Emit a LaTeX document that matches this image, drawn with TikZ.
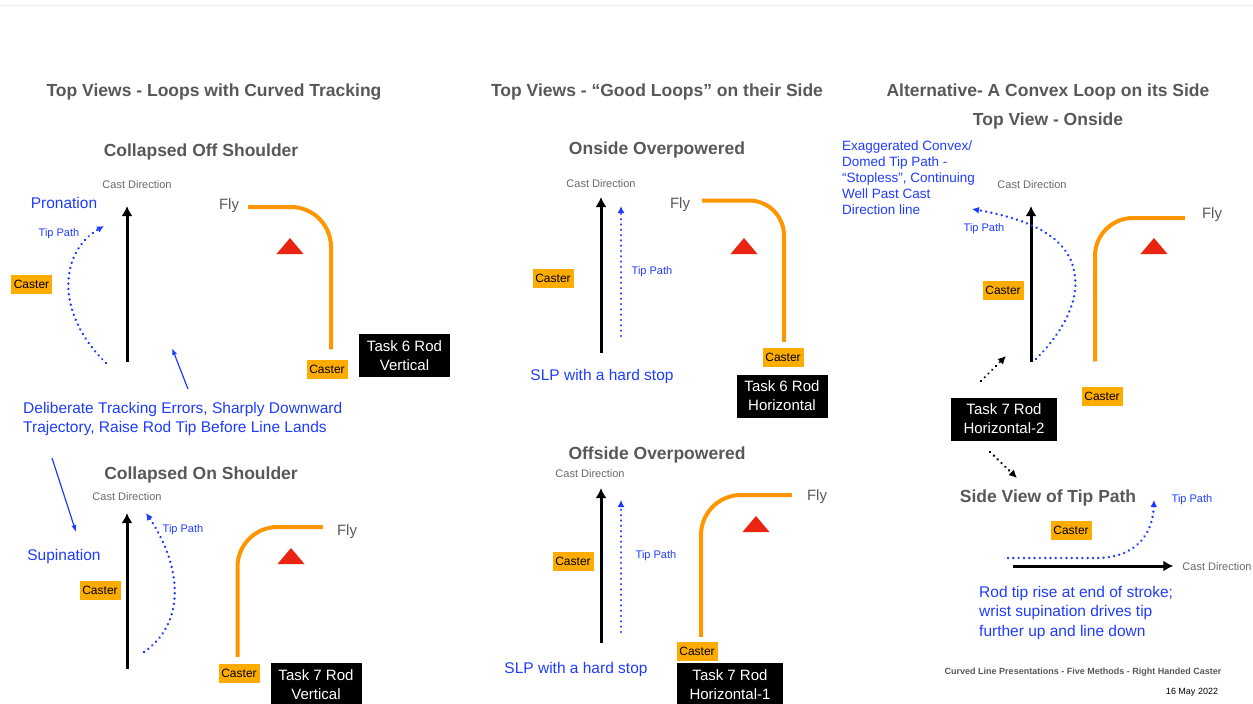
\documentclass[tikz,border=0pt]{standalone}
\usepackage{fontspec}
\setmainfont{Liberation Sans}
\usetikzlibrary{arrows.meta}

\definecolor{titlegray}{RGB}{88,88,88}
\definecolor{castgray}{RGB}{105,105,105}
\definecolor{noteblue}{RGB}{30,60,255}
\definecolor{lineorange}{RGB}{255,150,0}
\definecolor{casterfill}{RGB}{255,172,0}
\definecolor{conered}{RGB}{233,36,16}

\newcommand{\fs}[2]{\fontsize{#1}{#2}\selectfont}

\begin{document}
\begin{tikzpicture}[x=1pt,y=-1pt,
        header/.style={font=\bfseries\fs{17.5}{20}, text=titlegray, inner sep=1pt, yshift=-2pt},
        castlabel/.style={font=\fs{11}{13}, text=castgray, inner sep=1pt, yshift=-1pt},
        tiplabel/.style={font=\fs{11}{13}, text=noteblue, inner sep=1pt},
        note/.style={font=\fs{15.5}{19}, text=noteblue, inner sep=1pt, align=left},
        flylabel/.style={font=\fs{15}{18}, text=titlegray, inner sep=1pt, yshift=-2pt},
        caster/.style={fill=casterfill, font=\fs{12}{14}, minimum width=41pt, minimum height=19pt, inner sep=0pt},
        task/.style={fill=black, text=white, font=\fs{15}{19}, align=center, minimum width=91pt, minimum height=43pt, inner sep=0pt},
        rod/.style={line width=3pt, -{Latex[length=10pt,width=11pt]}},
        tippath/.style={noteblue, line width=2.7pt, line cap=round, dash pattern=on 0.01pt off 5.3pt, -{Latex[length=7pt,width=7pt]}},
        pointer/.style={noteblue, line width=1.2pt, -{Latex[length=7pt,width=5pt]}},
        dotpointer/.style={line width=2.7pt, line cap=round, dash pattern=on 0.01pt off 5.3pt, -{Latex[length=8pt,width=8pt]}},
        flyline/.style={lineorange, line width=4pt, rounded corners=40pt},
    ]
    \useasboundingbox (0,0) rectangle (1253,704);
    \draw[gray!12, line width=1pt] (0,5) -- (1253,5);

    % headers
    \node[header] (hdrLeft)   at (214,90)  {Top Views - Loops with Curved Tracking};
    \node[header] (hdrMid)    at (657,90)  {Top Views - “Good Loops” on their Side};
    \node[header] (hdrRight)  at (1048,90) {Alternative- A Convex Loop on its Side};
    \node[header] (hdrOnside) at (1048,119) {Top View - Onside};

    \node[header] (titleLT) at (201,150)  {Collapsed Off Shoulder};
    \node[header] (titleLB) at (201,473)  {Collapsed On Shoulder};
    \node[header] (titleMT) at (657,148)  {Onside Overpowered};
    \node[header] (titleMB) at (657,453)  {Offside Overpowered};
    \node[header] (titleRB) at (1048,496) {Side View of Tip Path};

    % red cones
    \foreach \x/\y in {290/238, 291/548, 744/238, 756/516, 1154/238}
        \fill[conered] (\x,\y) -- ++(-13.5,16) -- ++(27,0) -- cycle;

    % collapsed off shoulder
    \node[castlabel] (castLT) at (137,184) {Cast Direction};
    \node[note] (pronation) at (64,203) {Pronation};
    \node[tiplabel] (tipLT) at (59,234) {Tip Path};
    \node[caster] (casterLT1) at (31.5,284) {Caster};
    \node[flylabel] (flyLT) at (229,204) {Fly};
    \node[caster] (casterLT2) at (327,369) {Caster};
    \node[task] (taskLT) at (404.5,355.5) {Task 6 Rod\\Vertical};
    \node[note, anchor=west] (trackNote) at (22,419) {Deliberate Tracking Errors, Sharply Downward\\Trajectory, Raise Rod Tip Before Line Lands};

    \coordinate (rodLT0) at (127,362);
    \coordinate (rodLT1) at (127,206);
    \coordinate (tipLT0) at (106,363);
    \coordinate (tipLT1) at (104,226);
    \coordinate (ptrLT0) at (188,389);
    \coordinate (ptrLT1) at (172,348);
    \draw[rod] (rodLT0) -- (rodLT1);
    \draw[tippath] (tipLT0) .. controls (52,310) and (62,250) .. (tipLT1);
    \draw[flyline] ([xshift=8pt,yshift=-1pt]flyLT.east) -| ([xshift=4pt,yshift=10pt]casterLT2.north);
    \draw[pointer] (ptrLT0) -- (ptrLT1);

    % collapsed on shoulder
    \node[castlabel] (castLB) at (127,496) {Cast Direction};
    \node[note] (supination) at (64,556) {Supination};
    \node[tiplabel] (tipLB) at (183,530) {Tip Path};
    \node[caster] (casterLB1) at (100,590) {Caster};
    \node[flylabel] (flyLB) at (347,530) {Fly};
    \node[caster] (casterLB2) at (239,673) {Caster};
    \node[task] (taskLB) at (316,684.5) {Task 7 Rod\\Vertical};

    \coordinate (rodLB0) at (127,669);
    \coordinate (rodLB1) at (127,513);
    \coordinate (tipLB0) at (144,652);
    \coordinate (tipLB1) at (146,513);
    \coordinate (ptrLB0) at (52,458);
    \coordinate (ptrLB1) at (76,532);
    \draw[rod] (rodLB0) -- (rodLB1);
    \draw[tippath] (tipLB0) .. controls (190,620) and (178,560) .. (tipLB1);
    \draw[flyline] ([xshift=-1.5pt,yshift=6.5pt]casterLB2.north) |- ([xshift=-13pt,yshift=5pt]flyLB.west);
    \draw[pointer] (ptrLB0) -- (ptrLB1);

    % onside overpowered
    \node[castlabel] (castMT) at (601,183) {Cast Direction};
    \node[tiplabel] (tipMT) at (652,272) {Tip Path};
    \node[caster] (casterMT1) at (553,278) {Caster};
    \node[flylabel] (flyMT) at (680,203) {Fly};
    \node[caster] (casterMT2) at (783,357) {Caster};
    \node[task] (taskMT) at (782,396) {Task 6 Rod\\Horizontal};
    \node[note] (slpMT) at (602,376) {SLP with a hard stop};

    \coordinate (rodMT0) at (601,353);
    \coordinate (rodMT1) at (601,197);
    \coordinate (tipMT0) at (621,336);
    \coordinate (tipMT1) at (621,206);
    \draw[rod] (rodMT0) -- (rodMT1);
    \draw[tippath] (tipMT0) -- (tipMT1);
    \draw[flyline, rounded corners=35pt] ([xshift=11pt,yshift=4.5pt]flyMT.east) -| ([xshift=1pt,yshift=5.5pt]casterMT2.north);

    % offside overpowered
    \node[castlabel] (castMB) at (590,473) {Cast Direction};
    \node[tiplabel] (tipMB) at (656,556) {Tip Path};
    \node[caster] (casterMB1) at (573,561) {Caster};
    \node[flylabel] (flyMB) at (817,495) {Fly};
    \node[caster] (casterMB2) at (697,651) {Caster};
    \node[task, minimum width=106pt] (taskMB) at (730,684.5) {Task 7 Rod\\Horizontal-1};
    \node[note] (slpMB) at (576,669) {SLP with a hard stop};

    \coordinate (rodMB0) at (601,643);
    \coordinate (rodMB1) at (601,488);
    \coordinate (tipMB0) at (621,632);
    \coordinate (tipMB1) at (621,500);
    \draw[rod] (rodMB0) -- (rodMB1);
    \draw[tippath] (tipMB0) -- (tipMB1);
    \draw[flyline] ([xshift=4pt,yshift=4.5pt]casterMB2.north) |- ([xshift=-14pt,yshift=2pt]flyMB.west);

    % convex loop, top view
    \node[note, font=\fs{13.5}{16}, anchor=west] (convexNote) at (841,178) {Exaggerated Convex/\\Domed Tip Path -\\“Stopless”, Continuing\\Well Past Cast\\Direction line};
    \node[castlabel] (castRT) at (1032,184) {Cast Direction};
    \node[tiplabel] (tipRT) at (984,229) {Tip Path};
    \node[caster] (casterRT1) at (1003,290) {Caster};
    \node[flylabel] (flyRT) at (1212,213) {Fly};
    \node[caster] (casterRT2) at (1102,396) {Caster};
    \node[task, minimum width=106pt] (taskRT) at (1004,419) {Task 7 Rod\\Horizontal-2};

    \coordinate (rodRT0) at (1031,362);
    \coordinate (rodRT1) at (1031,206);
    \coordinate (tipRT0) at (1036,359);
    \coordinate (tipRT1) at (972,209);
    \coordinate (ptrRT0) at (981,381);
    \coordinate (ptrRT1) at (1006,356);
    \coordinate (ptrRB0) at (990,452);
    \coordinate (ptrRB1) at (1017,478);
    \draw[rod] (rodRT0) -- (rodRT1);
    \draw[tippath] (tipRT0) .. controls (1065,330) and (1078,300) .. (1075,277)
                            .. controls (1072,245) and (1045,222) .. (tipRT1);
    \draw[flyline, rounded corners=38pt] ([xshift=-7pt,yshift=25pt]casterRT2.north) |- ([xshift=-16pt,yshift=-3pt]flyRT.west);
    \draw[dotpointer] (ptrRT0) -- (ptrRT1);
    \draw[dotpointer] (ptrRB0) -- (ptrRB1);

    % side view
    \node[caster] (casterRB) at (1071,530) {Caster};
    \node[tiplabel] (tipRB) at (1192,500) {Tip Path};
    \node[castlabel] (castRB) at (1217,566) {Cast Direction};
    \node[note, font=\fs{15.5}{19.5}, anchor=west] (riseNote) at (978,612.5) {Rod tip rise at end of stroke;\\wrist supination drives tip\\further up and line down};

    \coordinate (rodRB0) at (1013,566);
    \coordinate (tipRB0) at (1008,558);
    \coordinate (tipRB1) at (1154,500);
    \draw[rod, shorten >=8pt] (rodRB0) -- (rodRB0 -| castRB.west);
    \draw[tippath] (tipRB0) -- (1100,558) .. controls (1140,556) and (1153,530) .. (tipRB1);

    % footer
    \node[font=\bfseries\fs{9}{11}, text=titlegray] (footer) at (1083,672) {Curved Line Presentations - Five Methods - Right Handed Caster};
    \node[font=\fs{9}{11}] (date) at (1192,692) {16 May 2022};
\end{tikzpicture}
\end{document}
